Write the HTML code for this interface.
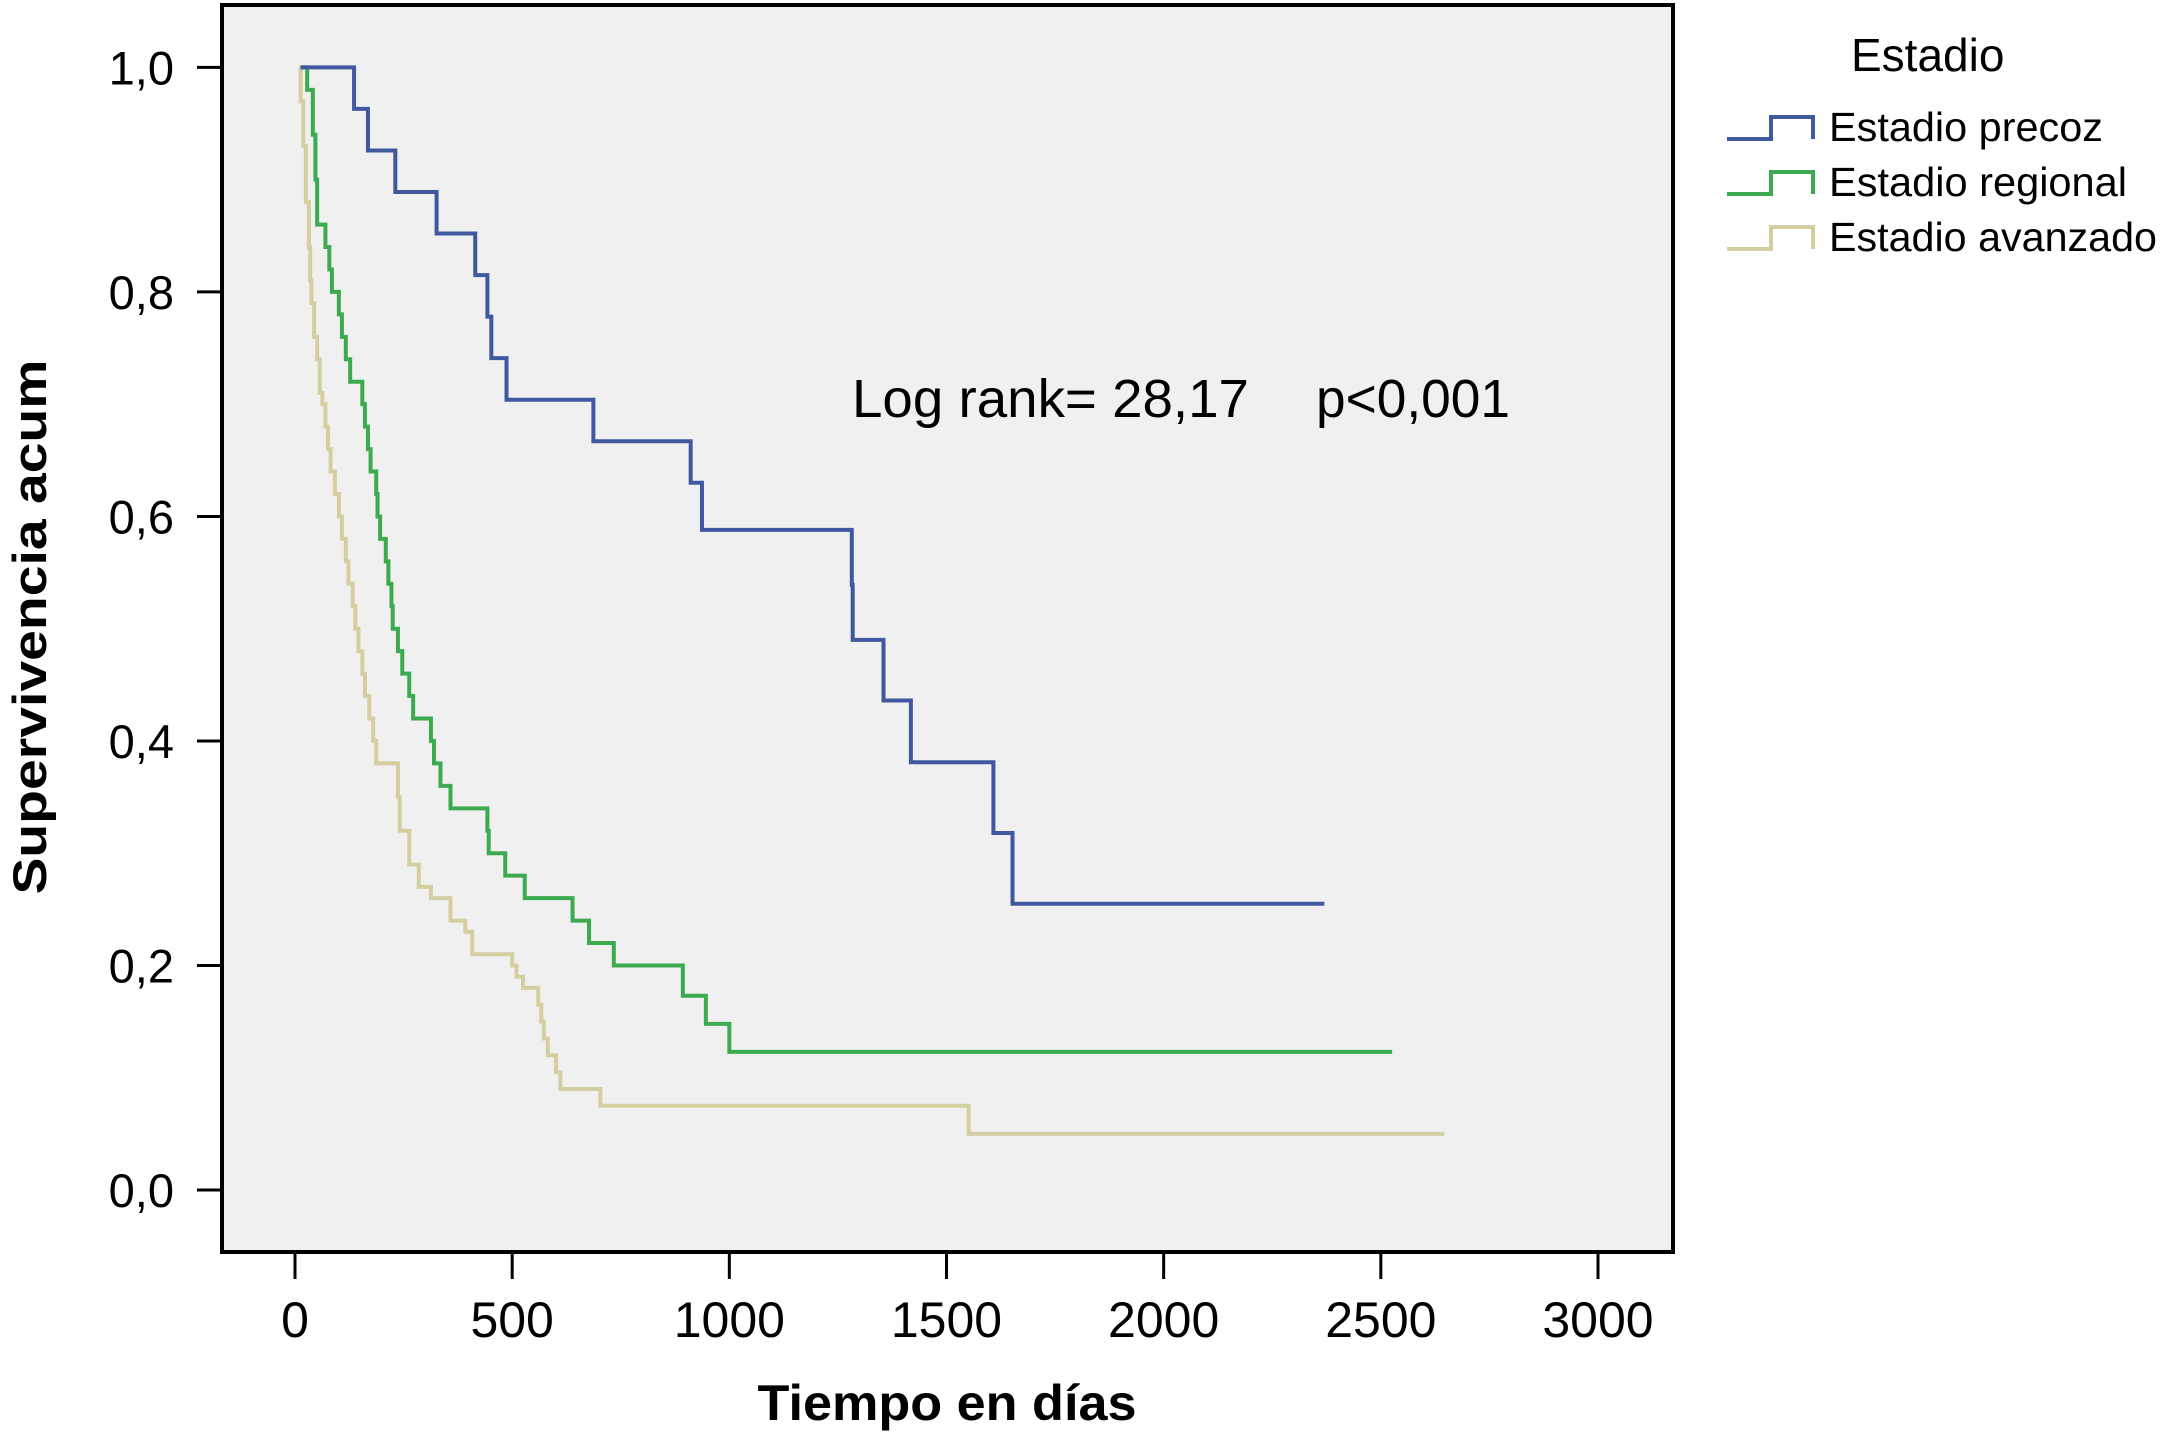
<!DOCTYPE html>
<html><head><meta charset="utf-8"><style>
html,body{margin:0;padding:0;background:#fff;}
svg{display:block;font-family:"Liberation Sans",sans-serif;}
</style></head><body>
<svg id="chart" width="2160" height="1437" viewBox="0 0 2160 1437" xmlns="http://www.w3.org/2000/svg">
<rect x="222" y="5" width="1451" height="1247" fill="#f0f0f0" stroke="#000" stroke-width="4"/>
<g id="ticks"></g>
<g id="series"></g>
<text transform="translate(46,627) rotate(-90)" text-anchor="middle" font-weight="bold" font-size="47" textLength="535" lengthAdjust="spacingAndGlyphs">Supervivencia acum</text>
<text x="947" y="1420" text-anchor="middle" font-weight="bold" font-size="50" textLength="379" lengthAdjust="spacingAndGlyphs">Tiempo en días</text>
<text x="852" y="417" font-size="54" textLength="397" lengthAdjust="spacingAndGlyphs">Log rank= 28,17</text>
<text x="1316" y="417" font-size="54" textLength="194" lengthAdjust="spacingAndGlyphs">p&lt;0,001</text>
<g>
<text x="1851" y="71" font-size="46">Estadio</text>
<path d="M1727,139 H1771 V117 H1813 V139" fill="none" stroke="#3f58a0" stroke-width="4"/>
<text x="1829" y="141" font-size="41" textLength="274" lengthAdjust="spacingAndGlyphs">Estadio precoz</text>
<path d="M1727,194 H1771 V172 H1813 V194" fill="none" stroke="#3caa4e" stroke-width="4"/>
<text x="1829" y="196" font-size="41" textLength="298" lengthAdjust="spacingAndGlyphs">Estadio regional</text>
<path d="M1727,249 H1771 V227 H1813 V249" fill="none" stroke="#d4cfa0" stroke-width="4"/>
<text x="1829" y="251" font-size="41" textLength="328" lengthAdjust="spacingAndGlyphs">Estadio avanzado</text>
</g>
</svg>
<script>
const xTicks = [0,500,1000,1500,2000,2500,3000];
const xTickLabels = ["0","500","1000","1500","2000","2500","3000"];
const yTicks = [0,0.2,0.4,0.6,0.8,1.0];
const yTickLabels = ["0,0","0,2","0,4","0,6","0,8","1,0"];
const precozTimes = [13,136,168,231,326,415,443,452,487,687,911,937,1282,1284,1355,1418,1608,1652];
const precozValues = [1.0,0.963,0.926,0.889,0.852,0.815,0.778,0.741,0.704,0.667,0.630,0.588,0.539,0.49,0.436,0.381,0.318,0.255];
const precozEnd = 2370;
const regionalTimes = [13,28,41,47,51,70,79,85,101,108,117,127,155,161,168,174,187,190,196,209,215,222,225,237,247,263,272,313,320,335,358,443,446,484,529,639,677,734,893,946,1000];
const regionalValues = [1.0,0.98,0.94,0.90,0.86,0.84,0.82,0.80,0.78,0.76,0.74,0.72,0.70,0.68,0.66,0.64,0.62,0.60,0.58,0.56,0.54,0.52,0.50,0.48,0.46,0.44,0.42,0.40,0.38,0.36,0.34,0.32,0.30,0.28,0.26,0.24,0.22,0.20,0.173,0.148,0.123];
const regionalEnd = 2526;
const avanzadoTimes = [10,13,19,25,32,35,38,44,51,57,63,70,76,82,92,101,108,117,123,133,139,146,155,161,171,180,187,237,241,263,285,313,358,392,408,500,510,525,560,567,573,582,601,611,703,1551];
const avanzadoValues = [1.0,0.97,0.93,0.88,0.84,0.81,0.79,0.76,0.74,0.71,0.70,0.68,0.66,0.64,0.62,0.60,0.58,0.56,0.54,0.52,0.50,0.48,0.46,0.44,0.42,0.40,0.38,0.35,0.32,0.29,0.27,0.26,0.24,0.23,0.21,0.20,0.19,0.18,0.165,0.15,0.135,0.12,0.105,0.09,0.075,0.05];
const avanzadoEnd = 2646;

const NS = "http://www.w3.org/2000/svg";
function xScale(t){ return 295 + t * (1598 - 295) / 3000; }
function yScale(v){ return 1190 - v * (1190 - 67.4); }

const tg = document.getElementById('ticks');
xTicks.forEach((t,i)=>{
  const l = document.createElementNS(NS,'line');
  
  
  l.setAttribute('x1', xScale(t)); l.setAttribute('x2', xScale(t));
  l.setAttribute('y1', 1254); l.setAttribute('y2', 1279);
  l.setAttribute('stroke', '#000'); l.setAttribute('stroke-width', 3);
  tg.appendChild(l);
  const tx = document.createElementNS(NS,'text');
  
  
  tx.setAttribute('x', xScale(t)); tx.setAttribute('y', 1337);
  tx.setAttribute('text-anchor', 'middle'); tx.setAttribute('font-size', '50');
  tx.textContent = xTickLabels[i];
  tg.appendChild(tx);
});
yTicks.forEach((v,i)=>{
  const l = document.createElementNS(NS,'line');
  
  
  l.setAttribute('x1', 197); l.setAttribute('x2', 221);
  l.setAttribute('y1', yScale(v)); l.setAttribute('y2', yScale(v));
  l.setAttribute('stroke', '#000'); l.setAttribute('stroke-width', 3);
  tg.appendChild(l);
  const tx = document.createElementNS(NS,'text');
  
  
  tx.setAttribute('x', 174); tx.setAttribute('y', yScale(v) + 17);
  tx.setAttribute('text-anchor', 'end'); tx.setAttribute('font-size', '47');
  tx.textContent = yTickLabels[i];
  tg.appendChild(tx);
});

function stepPath(times, values, end){
  let d = 'M' + xScale(times[0]) + ',' + yScale(values[0]);
  for (let i = 1; i < times.length; i++){
    d += ' H' + xScale(times[i]) + ' V' + yScale(values[i]);
  }
  d += ' H' + xScale(end);
  return d;
}
const sg = document.getElementById('series');
[[avanzadoTimes,avanzadoValues,avanzadoEnd,'#d4cfa0','curve-avanzado'],
 [regionalTimes,regionalValues,regionalEnd,'#3caa4e','curve-regional'],
 [precozTimes,precozValues,precozEnd,'#3f58a0','curve-precoz']].forEach(s=>{
  const p = document.createElementNS(NS,'path');
  
  
  p.setAttribute('d', stepPath(s[0], s[1], s[2]));
  p.setAttribute('fill', 'none');
  p.setAttribute('stroke', s[3]);
  p.setAttribute('stroke-width', 4);
  sg.appendChild(p);
});
</script>
</body></html>
